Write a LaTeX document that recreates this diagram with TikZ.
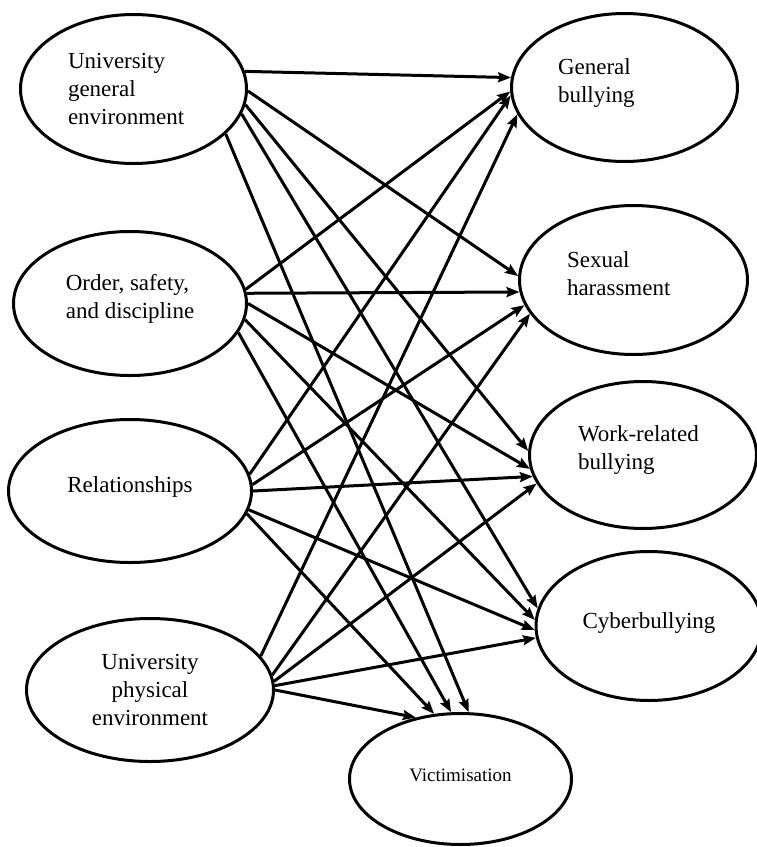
\documentclass[tikz,border=0pt]{standalone}
\usepackage{fontspec}
\setmainfont{Liberation Serif}
\usetikzlibrary{shapes.geometric,arrows.meta}

\begin{document}
\begin{tikzpicture}[x=1pt,y=-1pt,
nodes={ellipse,draw,line width=3pt,inner sep=0pt,font=\fontsize{23}{28}\selectfont},
link/.style={line width=3pt,-{Stealth[length=13pt,width=10pt,inset=2pt]}}]

\useasboundingbox (0,0) rectangle (757,847);

% Climate factors
\node[minimum width=226pt,minimum height=149pt,text width=131pt,align=left] (uge) at (133.5,89) {University\\general\\environment};
\node[minimum width=233pt,minimum height=144pt,text height=35pt,align=left] (osd) at (130,303.5) {Order, safety,\\and discipline};
\node[minimum width=243pt,minimum height=143pt,text height=7pt] (rel) at (130,491) {Relationships};
\node[minimum width=247pt,minimum height=143pt,align=center] (upe) at (150,690) {University\\physical\\environment};

% Outcomes
\node[minimum width=226pt,minimum height=148pt,text width=133pt,text height=7pt,align=left] (gb) at (624.5,87.5) {General\\bullying};
\node[minimum width=228pt,minimum height=149pt,text width=133pt,text height=4pt,align=left] (sh) at (633.5,280) {Sexual\\harassment};
\node[minimum width=227pt,minimum height=147pt,text width=130pt,text height=6pt,align=left] (wrb) at (643,455) {Work-related\\bullying};
\node[minimum width=226pt,minimum height=149pt,text height=9pt] (cb) at (649,626) {Cyberbullying};
\node[minimum width=222pt,minimum height=131pt,text height=5pt,font=\fontsize{19}{23}\selectfont] (vic) at (460.5,779) {Victimisation};

% Paths from university general environment
\draw[link] (uge.9.1) -- (gb.175.4);
\draw[link] (uge.-1) -- (sh.178.5);
\draw[link] (uge.-8) -- (wrb.178.5);
\draw[link] (uge.-13.4) -- (cb.171.3);
\draw[link] (uge.-26.2) -- (vic.83.7);

% Paths from order, safety, and discipline
\draw[link] (osd.7.7) -- (gb.182.2);
\draw[link] (osd.5.1) -- (sh.186.4);
\draw[link] (osd.0.2) -- (wrb.187.5);
\draw[link] (osd.-8.2) -- (cb.177);
\draw[link] (osd.-15.3) -- (vic.98);

% Paths from relationships
\draw[link] (rel.8.7) -- (gb.184.7);
\draw[link] (rel.3.8) -- (sh.193.4);
\draw[link] (rel.0.9) -- (wrb.191.7);
\draw[link] (rel.-9.1) -- (cb.182);
\draw[link] (rel.-11.7) -- (vic.112.6);

% Paths from university physical environment
\draw[link] (upe.17.6) -- (gb.194.1);
\draw[link] (upe.7) -- (sh.198.2);
\draw[link] (upe.4.1) -- (wrb.195.3);
\draw[link] (upe.2.7) -- (cb.186);
\draw[link] (upe.-0.5) -- (vic.126.3);

\end{tikzpicture}
\end{document}
